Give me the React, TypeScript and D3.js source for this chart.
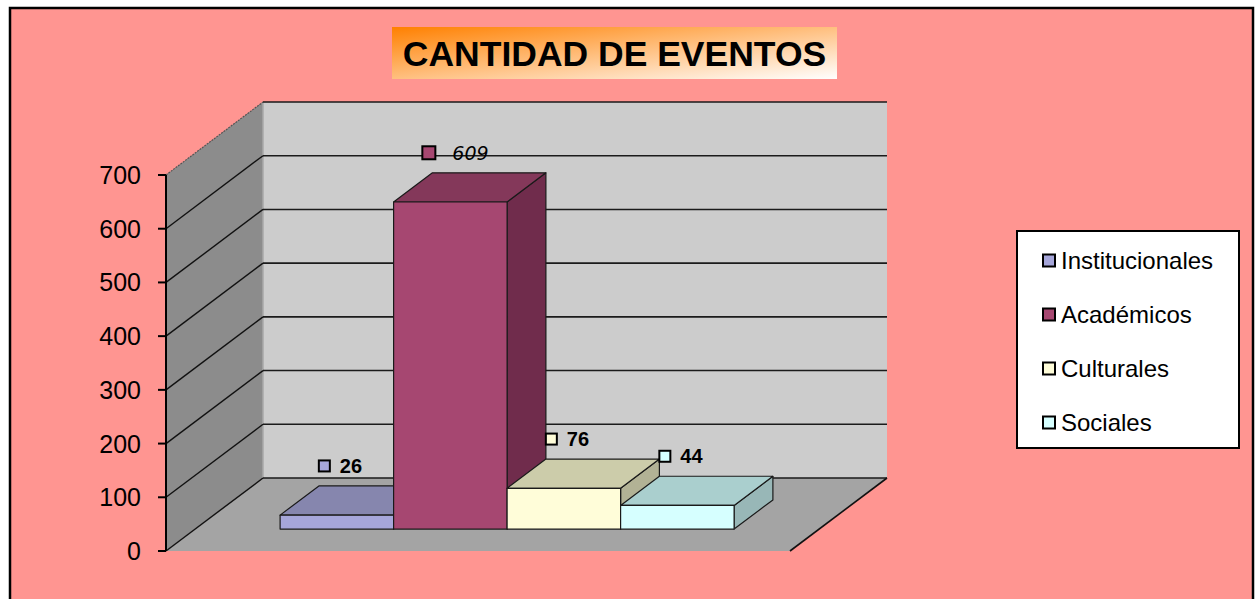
import React from "react";
import * as d3 from "d3";

const categories = ["Institucionales", "Académicos", "Culturales", "Sociales"];
const values = [26, 609, 76, 44];
const yTicks = [0, 100, 200, 300, 400, 500, 600, 700];
const frontColors = ["#A6A6DA", "#A64771", "#FFFDD9", "#D6FFFF"];
const topColors = ["#8686AE", "#84385A", "#CCCCAA", "#AACFCE"];
const sideColors = ["#747497", "#702C4C", "#B2B295", "#98B7B7"];
const titleText = "CANTIDAD DE EVENTOS";

const W = 1255;
const H = 599;
const FONT = "'Liberation Sans', Arial, Helvetica, sans-serif";

export default function App() {
  // 3D projection parameters
  const x0 = 166;
  const x1 = 790;
  const DX = 97;
  const DY = -73;
  const y = d3.scaleLinear().domain([0, 700]).range([551, 175]);
  const band = d3.scaleBand<string>().domain(categories).range([x0 + 85, x1 - 85]).paddingInner(0).paddingOuter(0);
  const bw = band.bandwidth();
  const P = (x: number, v: number, t: number): [number, number] => [x + t * DX, y(v) + t * DY];
  const pts = (arr: [number, number][]) => arr.map((p) => p.join(",")).join(" ");

  const tFront = 0.3;
  const tBack = 0.7;

  const leftWall = pts([P(x0, 0, 0), P(x0, 700, 0), P(x0, 700, 1), P(x0, 0, 1)]);
  const backWall = pts([P(x0, 700, 1), P(x1, 700, 1), P(x1, 0, 1), P(x0, 0, 1)]);
  const floor = pts([P(x0, 0, 0), P(x1, 0, 0), P(x1, 0, 1), P(x0, 0, 1)]);

  const line = d3.line<[number, number]>();

  return (
    <svg
      width={W}
      height={H}
      style={{ position: "absolute", left: 0, top: 0, display: "block" }}
      xmlns="http://www.w3.org/2000/svg"
    >
      <defs>
        <linearGradient id="titleGrad" x1="0" y1="0" x2="1" y2="1">
          <stop offset="0%" stopColor="#FF8000" />
          <stop offset="100%" stopColor="#FFFFFF" />
        </linearGradient>
      </defs>
      <rect x={0} y={0} width={W} height={H} fill="#FFFFFF" />
      <rect x={10} y={8} width={1243} height={H + 10} fill="#FF9591" stroke="#000" strokeWidth={2.5} />

      {/* Title */}
      <rect x={392} y={27} width={445} height={52} fill="url(#titleGrad)" />
      <text x={614.5} y={66} textAnchor="middle" fontFamily={FONT} fontWeight="bold" fontSize={35.5} fill="#000">
        {titleText}
      </text>

      {/* Walls and floor */}
      <polygon points={leftWall} fill="#8C8C8C" />
      <polygon points={backWall} fill="#CCCCCC" />
      <polygon points={floor} fill="#A4A4A4" />
      <path d={line([P(x0, 0, 1), P(x0, 700, 1)]) || ""} stroke="#A8A8A8" strokeWidth={1.5} fill="none" />

      {/* Gridlines */}
      {yTicks.map((v) => (
        <g key={"g" + v}>
          <path
            d={line([P(x0, v, 1), P(x1, v, 1)]) || ""}
            stroke="#1a1a1a"
            strokeWidth={1.6}
            fill="none"
          />
          <path
            d={line([P(x0, v, 0), P(x0, v, 1)]) || ""}
            stroke={v === 700 ? "#555" : "#111"}
            strokeWidth={v === 700 ? 1.2 : 1.4}
            strokeDasharray={v === 700 ? "2,1" : undefined}
            fill="none"
          />
        </g>
      ))}
      <path d={line([P(x1, 0, 0), P(x1, 0, 1)]) || ""} stroke="#111" strokeWidth={1.6} fill="none" />

      {/* Axis */}
      <path d={line([[x0, y(0)], [x0, y(700)]]) || ""} stroke="#000" strokeWidth={2} fill="none" />
      {yTicks.map((v) => (
        <g key={"t" + v}>
          <path d={line([[x0 - 8, y(v)], [x0, y(v)]]) || ""} stroke="#000" strokeWidth={2} fill="none" />
          <text
            x={141}
            y={y(v)}
            dy="0.36em"
            textAnchor="end"
            fontFamily={FONT}
            fontSize={25}
            fill="#000"
          >
            {v}
          </text>
        </g>
      ))}

      {/* Bars */}
      {categories.map((c, i) => {
        const v = values[i];
        const xl = band(c) as number;
        const xr = xl + bw;
        const front = pts([P(xl, 0, tFront), P(xr, 0, tFront), P(xr, v, tFront), P(xl, v, tFront)]);
        const top = pts([P(xl, v, tFront), P(xr, v, tFront), P(xr, v, tBack), P(xl, v, tBack)]);
        const side = pts([P(xr, 0, tFront), P(xr, 0, tBack), P(xr, v, tBack), P(xr, v, tFront)]);
        return (
          <g key={c} stroke="#1a1a1a" strokeWidth={1.2} strokeLinejoin="round">
            <polygon points={side} fill={sideColors[i]} />
            <polygon points={top} fill={topColors[i]} />
            <polygon points={front} fill={frontColors[i]} />
          </g>
        );
      })}

      {/* Data labels */}
      {categories.map((c, i) => {
        const v = values[i];
        const [fx] = P((band(c) as number) + bw / 2, v, tFront);
        const cx = fx + 3;
        const cy = P(0, v, tBack)[1] - 20;
        const italic = i === 1;
        const ms = italic ? 13 : 11;
        return (
          <g key={"l" + c}>
            <rect
              x={cx - 10 - ms - (italic ? 8 : 0)}
              y={cy - ms / 2}
              width={ms}
              height={ms}
              fill={frontColors[i]}
              stroke="#000"
              strokeWidth={2}
            />
            <text
              x={cx + (italic ? -1 : 0)}
              y={cy}
              dy="0.36em"
              fontFamily={italic ? "'DejaVu Sans', sans-serif" : FONT}
              fontStyle={italic ? "italic" : "normal"}
              fontWeight={italic ? "normal" : "bold"}
              fontSize={italic ? 19 : 20}
              fill="#000"
            >
              {v}
            </text>
          </g>
        );
      })}

      {/* Legend */}
      <rect x={1017} y={231} width={222} height={217} fill="#FFFFFF" stroke="#000" strokeWidth={2} />
      {categories.map((c, i) => {
        const cy = 260.5 + i * 54;
        return (
          <g key={"lg" + c}>
            <rect x={1043} y={cy - 6} width={12} height={12} fill={frontColors[i]} stroke="#000" strokeWidth={2} />
            <text x={1061} y={cy} dy="0.35em" fontFamily={FONT} fontSize={24} fill="#000">
              {c}
            </text>
          </g>
        );
      })}
    </svg>
  );
}
